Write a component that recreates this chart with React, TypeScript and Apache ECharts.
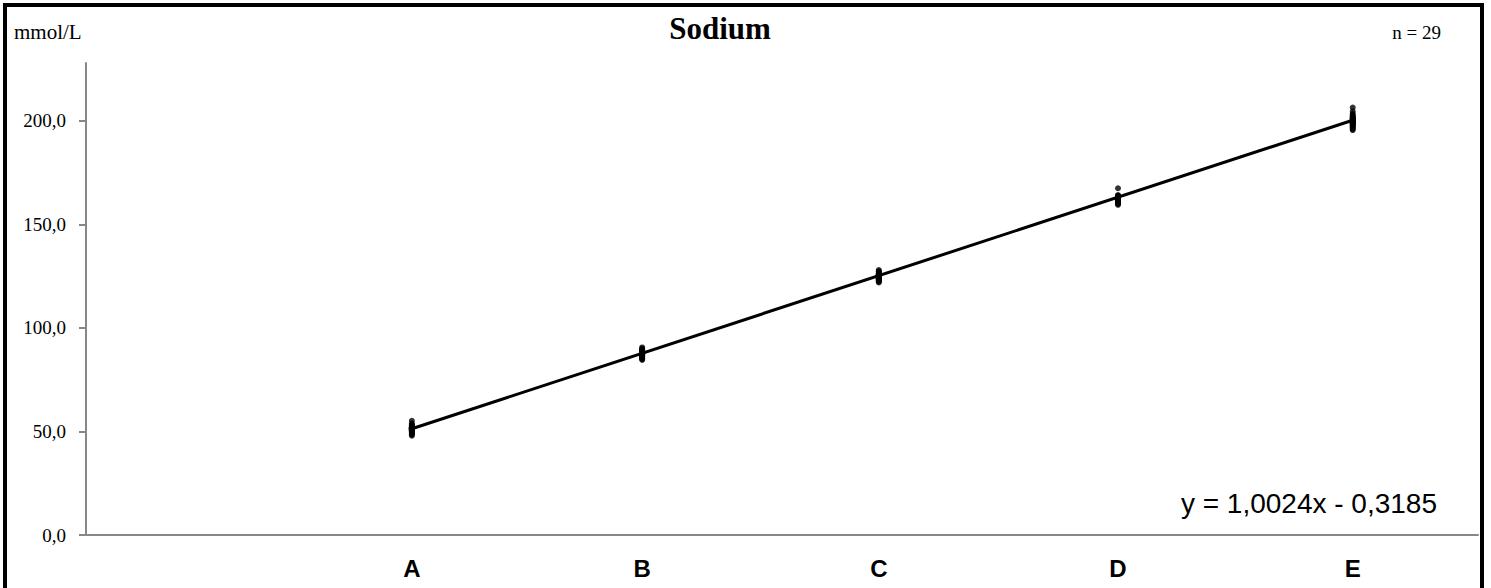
import React, { useEffect, useRef } from "react";
import * as echarts from "echarts";

const levels = ["A", "B", "C", "D", "E"];
const targets = [51.5, 87.9, 125.3, 163.1, 200.2];
const valuesA = [55.2, 53.8, 53.2, 52.9, 52.6, 52.4, 52.2, 52.0, 51.9, 51.8, 51.7, 51.6, 51.5, 51.4, 51.3, 51.2, 51.1, 51.0, 50.9, 50.8, 50.6, 50.4, 50.2, 50.0, 49.7, 49.4, 49.0, 48.5, 48.0];
const valuesB = [90.6, 90.0, 89.6, 89.3, 89.0, 88.8, 88.6, 88.4, 88.3, 88.2, 88.1, 88.0, 87.9, 87.8, 87.7, 87.6, 87.5, 87.4, 87.3, 87.1, 86.9, 86.7, 86.5, 86.2, 85.9, 85.6, 85.3, 85.0, 84.6];
const valuesC = [128.0, 127.4, 127.0, 126.6, 126.3, 126.1, 125.9, 125.7, 125.6, 125.5, 125.4, 125.3, 125.2, 125.1, 125.0, 124.9, 124.8, 124.7, 124.6, 124.4, 124.2, 124.0, 123.8, 123.6, 123.3, 123.0, 122.7, 122.4, 122.0];
const valuesD = [167.5, 164.2, 163.9, 163.6, 163.4, 163.2, 163.1, 163.0, 162.9, 162.8, 162.7, 162.6, 162.5, 162.4, 162.3, 162.2, 162.1, 162.0, 161.9, 161.8, 161.6, 161.4, 161.2, 161.0, 160.8, 160.5, 160.2, 159.9, 159.5];
const valuesE = [206.5, 204.6, 203.4, 202.8, 202.3, 201.9, 201.6, 201.3, 201.0, 200.8, 200.6, 200.4, 200.2, 200.0, 199.8, 199.6, 199.4, 199.2, 199.0, 198.8, 198.6, 198.3, 198.0, 197.7, 197.4, 197.0, 196.6, 196.1, 195.6];
const allValues = [valuesA, valuesB, valuesC, valuesD, valuesE];
const slope = 1.0024;
const intercept = -0.3185;
const yTicks = [0, 50, 100, 150, 200];
const titleText = "Sodium";
const unitText = "mmol/L";
const nText = "n = 29";
const equationText = "y = 1,0024x - 0,3185";

export default function App() {
  const ref = useRef<HTMLDivElement>(null);
  useEffect(() => {
    document.body.style.margin = "0";
    const chart = echarts.init(ref.current!, null, { renderer: "svg" });
    const points: number[][] = [];
    allValues.forEach((vals, i) => vals.forEach((v) => points.push([targets[i], v])));
    const x0 = targets[0];
    const x1 = targets[targets.length - 1];
    const trend = [
      [x0, slope * x0 + intercept],
      [x1, slope * x1 + intercept],
    ];
    chart.setOption({
      animation: false,
      grid: { left: 86, top: 63, right: 13, bottom: 53, containLabel: false },
      xAxis: {
        type: "value",
        min: 0,
        max: 220,
        splitLine: { show: false },
        axisLine: { show: true, lineStyle: { color: "#878787", width: 2 } },
        axisTick: { show: false },
        axisLabel: {
          customValues: targets,
          formatter: (v: number) => {
            const i = targets.indexOf(v);
            return i >= 0 ? levels[i] : "";
          },
          margin: 21,
          color: "#000",
          fontFamily: "Liberation Sans, Arial, sans-serif",
          fontWeight: "bold",
          fontSize: 24,
        },
      },
      yAxis: {
        type: "value",
        min: 0,
        max: 228,
        splitLine: { show: false },
        axisLine: { show: true, lineStyle: { color: "#878787", width: 2 } },
        axisTick: { show: true, length: 7, customValues: yTicks, lineStyle: { color: "#878787", width: 2 } },
        axisLabel: {
          customValues: yTicks,
          formatter: (v: number) => v.toFixed(1).replace(".", ","),
          margin: 20,
          color: "#000",
          fontFamily: "Liberation Serif, Times New Roman, serif",
          fontSize: 19,
        },
      },
      series: [
        {
          type: "scatter",
          data: points,
          symbol: "circle",
          symbolSize: 6,
          itemStyle: { color: "#000" },
          z: 2,
        },
        {
          type: "line",
          data: trend,
          symbol: "none",
          lineStyle: { color: "#000", width: 3 },
          z: 3,
        },
      ],
      graphic: [
        {
          type: "rect",
          shape: { x: 5, y: 5, width: 1477, height: 620 },
          style: { fill: "none", stroke: "#000", lineWidth: 4 },
          silent: true,
        },
        {
          type: "text",
          x: 720,
          y: 28,
          style: {
            text: titleText,
            textAlign: "center",
            textVerticalAlign: "middle",
            font: "bold 31px 'Liberation Serif', 'Times New Roman', serif",
            fill: "#000",
          },
        },
        {
          type: "text",
          x: 14,
          y: 32,
          style: {
            text: unitText,
            textAlign: "left",
            textVerticalAlign: "middle",
            font: "21px 'Liberation Serif', 'Times New Roman', serif",
            fill: "#000",
          },
        },
        {
          type: "text",
          x: 1441,
          y: 32,
          style: {
            text: nText,
            textAlign: "right",
            textVerticalAlign: "middle",
            font: "19px 'Liberation Serif', 'Times New Roman', serif",
            fill: "#000",
          },
        },
        {
          type: "text",
          x: 1437,
          y: 503,
          style: {
            text: equationText,
            textAlign: "right",
            textVerticalAlign: "middle",
            font: "28px 'Liberation Sans', Arial, sans-serif",
            fill: "#000",
          },
        },
      ],
    });
    return () => chart.dispose();
  }, []);
  return <div ref={ref} style={{ width: 1491, height: 588 }} />;
}
